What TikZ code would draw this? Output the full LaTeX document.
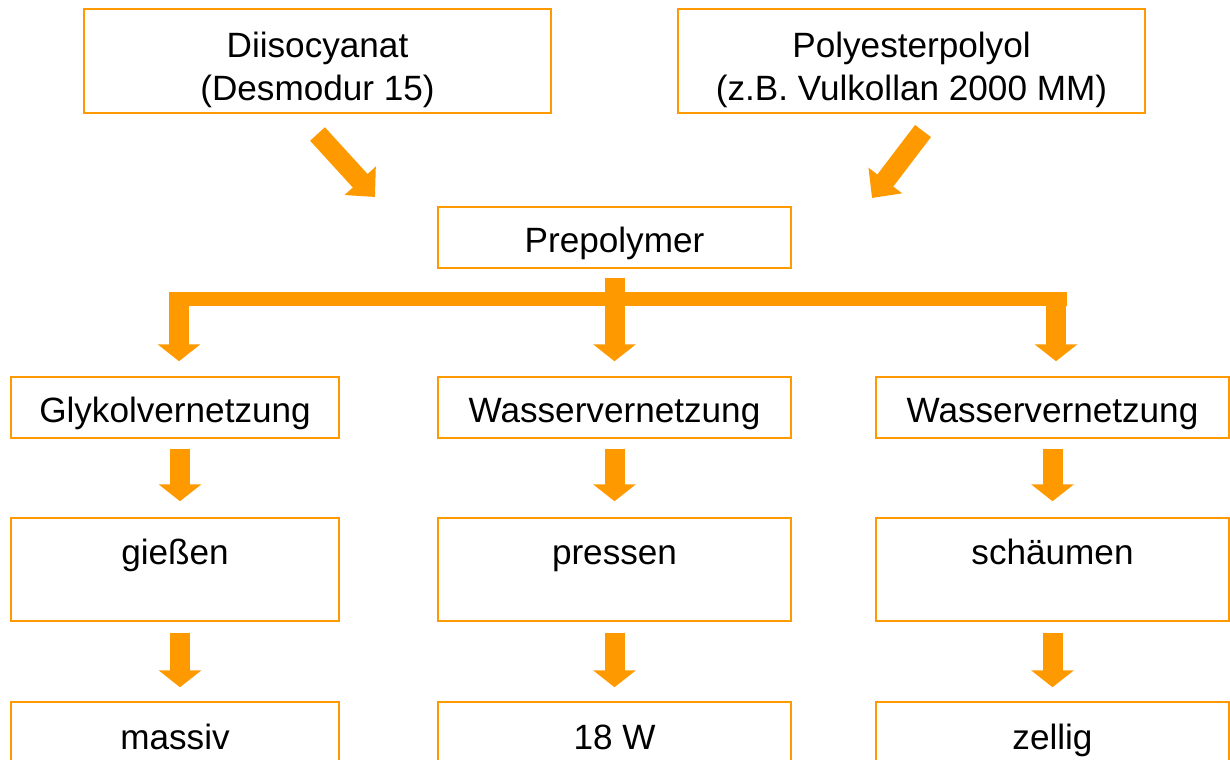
\documentclass[tikz,border=0pt]{standalone}
\usepackage{fontspec}
\setmainfont{Liberation Sans}
\usetikzlibrary{arrows.meta}
\definecolor{orng}{RGB}{255,153,0}
\newcommand\boxtext[2][0.12cm]{\raisebox{-#1}[\height][\depth]{\begin{tabular}{@{}c@{}}#2\end{tabular}}}
\tikzset{
  box/.style={draw=orng, line width=0.03cm, inner sep=0pt,
    font=\fontsize{20}{24.4}\selectfont},
  fat/.style={orng, line width=0.4cm, -{Triangle[width=0.84cm,length=0.34cm]}},
  slant/.style={orng, line width=0.4cm, -{Triangle[width=0.82cm,length=0.44cm]}},
}
\begin{document}
\begin{tikzpicture}[x=0.02cm,y=-0.02cm]
\useasboundingbox (0,0) rectangle (1230,760);
\clip (0,0) rectangle (1230,760);
\node [box, minimum width=9.34cm, minimum height=2.08cm] (dii) at (317.5,61) {\boxtext[0.18cm]{Diisocyanat\\(Desmodur 15)}};
\node [box, minimum width=9.34cm, minimum height=2.08cm] (poly) at (911.5,61) {\boxtext[0.18cm]{Polyesterpolyol\\(z.B. Vulkollan 2000 MM)}};
\node [box, minimum width=7.06cm, minimum height=1.22cm] (prep) at (614.5,237.5) {\boxtext{Prepolymer}};
\node [box, minimum width=6.56cm, minimum height=1.22cm] (glyk) at (175,407.5) {\boxtext{Glykolvernetzung}};
\node [box, minimum width=7.06cm, minimum height=1.22cm] (wmid) at (614.5,407.5) {\boxtext{Wasservernetzung}};
\node [box, minimum width=7.06cm, minimum height=1.22cm] (wright) at (1052.5,407.5) {\boxtext{Wasservernetzung}};
\node [box, minimum width=6.56cm, minimum height=2.06cm] (giessen) at (175,569.5) {\boxtext[0.16cm]{gießen\\~}};
\node [box, minimum width=7.06cm, minimum height=2.06cm] (pressen) at (614.5,569.5) {\boxtext[0.16cm]{pressen\\~}};
\node [box, minimum width=7.06cm, minimum height=2.06cm] (schaeumen) at (1052.5,569.5) {\boxtext[0.16cm]{schäumen\\~}};
\node [box, minimum width=6.56cm, minimum height=2.06cm] (massiv) at (175,753.5) {\boxtext[0.18cm]{massiv\\~}};
\node [box, minimum width=7.06cm, minimum height=2.06cm] (w18) at (614.5,753.5) {\boxtext[0.18cm]{18 W\\~}};
\node [box, minimum width=7.06cm, minimum height=2.06cm] (zellig) at (1052.5,753.5) {\boxtext[0.18cm]{zellig\\~}};
% inflow
\coordinate (t1) at (317.5,134);
\coordinate (h1) at (375,197);
\coordinate (t2) at (923,131);
\coordinate (h2) at (872,198);
\draw [slant] (t1) -- (h1);
\draw [slant] (t2) -- (h2);
% branching
\coordinate (bl) at (169,299);
\coordinate (br) at (1067,299);
\coordinate (kl) at (179,292);
\coordinate (kr) at (1056,292);
\draw [orng, line width=0.3cm] (bl) -- (br);
\draw [fat, shorten <=0.18cm, shorten >=0.3cm] (prep.south) -- (wmid.north);
\draw [fat, shorten >=0.3cm] (kl) -- (kl |- glyk.north);
\draw [fat, shorten >=0.3cm] (kr) -- (kr |- wright.north);
% columns
\draw [fat, shorten <=0.2cm, shorten >=0.32cm] ([xshift=0.1cm]glyk.south) -- ([xshift=0.1cm]giessen.north);
\draw [fat, shorten <=0.2cm, shorten >=0.32cm] (wmid.south) -- (pressen.north);
\draw [fat, shorten <=0.2cm, shorten >=0.32cm] (wright.south) -- (schaeumen.north);
\draw [fat, shorten <=0.22cm, shorten >=0.28cm] ([xshift=0.1cm]giessen.south) -- ([xshift=0.1cm]massiv.north);
\draw [fat, shorten <=0.22cm, shorten >=0.28cm] (pressen.south) -- (w18.north);
\draw [fat, shorten <=0.22cm, shorten >=0.28cm] (schaeumen.south) -- (zellig.north);
\end{tikzpicture}
\end{document}
